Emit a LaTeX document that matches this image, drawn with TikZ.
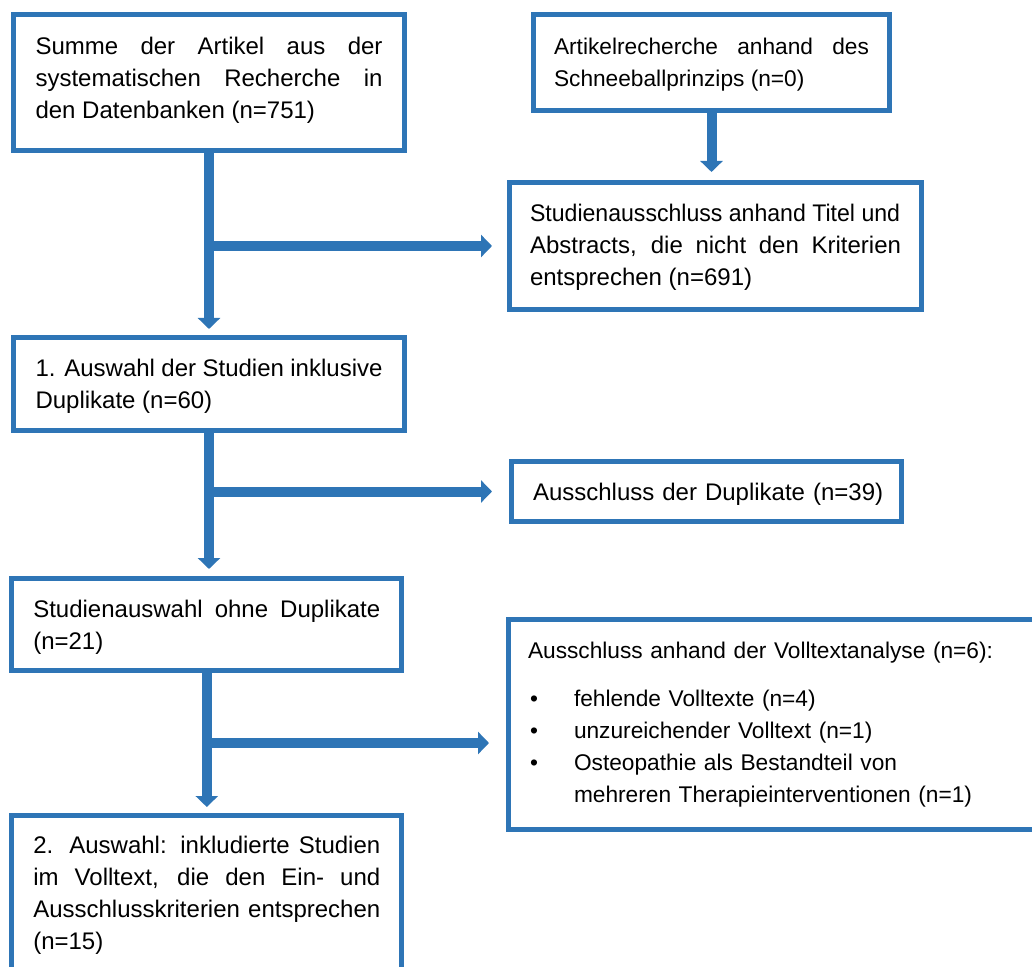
\documentclass[tikz,border=0pt]{standalone}
\usepackage{fontspec}
\setmainfont{Liberation Sans}
\usetikzlibrary{arrows.meta,calc}
\definecolor{flowblue}{RGB}{46,117,182}
\newcommand\itemdot{\makebox[23pt][l]{\hspace{1pt}•}}
\tolerance=10000
\hyphenpenalty=10000

\begin{document}
\begin{tikzpicture}[x=0.5pt,y=-0.5pt,
    box/.style={draw=flowblue,line width=2.5pt,anchor=north west,outer sep=0pt,
      inner ysep=0pt,align=justify,font=\fontsize{12}{16}\selectfont},
    small/.style={font=\fontsize{11.35}{16}\selectfont},
    flow/.style={draw=flowblue,line width=5pt,-{Triangle[width=11pt,length=5.5pt]}}]
  \clip (0,0) rectangle (1032,967);
  % left column
  \node[box,inner xsep=11pt,text width=173.5pt,text height=20.25pt,text depth=47.75pt]
    (summe) at (13.5,14.5)
    {Summe der Artikel aus der\linebreak systematischen Recherche in\linebreak den Datenbanken (n=751)};
  \node[box,inner xsep=11pt,text width=173.5pt,text height=19.75pt,text depth=26.75pt]
    (auswahl) at (13.5,337.5)
    {1. Auswahl der Studien inklusive\linebreak Duplikate (n=60)};
  \node[box,inner xsep=10.8pt,text width=173.5pt,text height=19.25pt,text depth=26.75pt]
    (ohne) at (11.7,578.5)
    {Studienauswahl ohne Duplikate\linebreak (n=21)};
  \node[box,inner xsep=10.8pt,text width=173.5pt,text height=18.75pt,text depth=73.5pt]
    (final) at (11.7,815.5)
    {2. Auswahl: inkludierte Studien\linebreak im Volltext, die den Ein- und\linebreak Ausschlusskriterien entsprechen\linebreak (n=15)};
  % right column
  \node[box,small,inner xsep=10.25pt,text width=157.5pt,text height=20.25pt,text depth=27.75pt]
    (schnee) at (533.5,14.5)
    {Artikelrecherche anhand des\linebreak Schneeballprinzips (n=0)};
  \node[box,inner xsep=10.25pt,text width=185.5pt,text height=19.75pt,text depth=43.75pt]
    (titel) at (509.5,182.5)
    {\makebox[\linewidth][l]{\scalebox{0.962}[1]{Studienausschluss anhand Titel und}}\linebreak
     Abstracts, die nicht den Kriterien\linebreak entsprechen (n=691)};
  \node[box,inner xsep=10.75pt,text width=173.25pt,text height=19.75pt,text depth=10.25pt,align=left]
    (dupl) at (511.5,461.5)
    {\mbox{Ausschluss der Duplikate (n=39)}};
  \node[box,small,inner xsep=9.75pt,text width=246.25pt,text height=19.25pt,text depth=85.75pt,align=left]
    (volltext) at (508.5,619.5)
    {Ausschluss anhand der Volltextanalyse (n=6):\\[8pt]
     \itemdot fehlende Volltexte (n=4)\\
     \itemdot unzureichender Volltext (n=1)\\
     \itemdot Osteopathie als Bestandteil von\\
     \hspace*{23pt}mehreren Therapieinterventionen (n=1)};
  % connectors
  \draw[flow,shorten >=4.25pt] (summe.south) -- (auswahl.north);
  \draw[flow,shorten >=8.75pt] (summe.south |- titel.west) -- (titel.west);
  \draw[flow,shorten >=5.25pt] (schnee.south) -- (schnee.south |- titel.north);
  \draw[flow,shorten >=4.75pt] (auswahl.south) -- (auswahl.south |- ohne.north);
  \draw[flow,shorten >=9.75pt] (auswahl.south |- dupl.west) -- (dupl.west);
  \draw[flow,shorten >=4.25pt] (ohne.south) -- (final.north);
  \coordinate (k3) at ($(ohne.south)!0.5!(final.north)$);
  \draw[flow,shorten >=9.75pt] (k3) -- (k3 -| volltext.west);
\end{tikzpicture}
\end{document}
